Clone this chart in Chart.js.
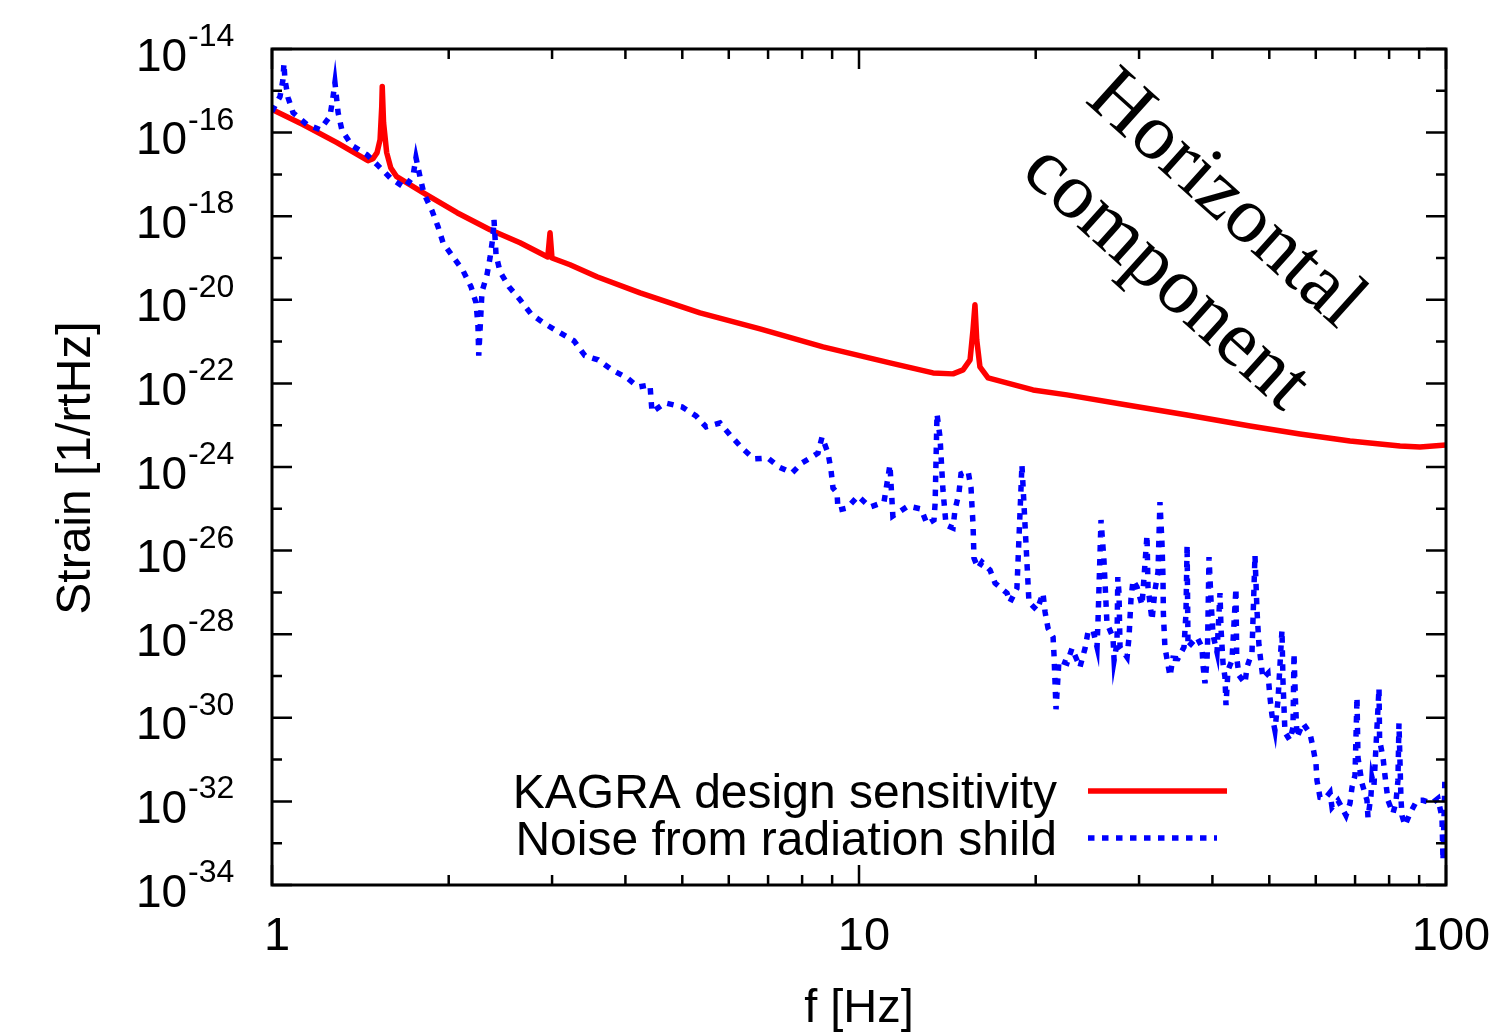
<!DOCTYPE html>
<html>
<head>
<meta charset="utf-8">
<title>KAGRA - horizontal component</title>
<script src="https://cdn.jsdelivr.net/npm/chart.js@4.4.1/dist/chart.umd.min.js"></script>
<style>
  html, body { margin: 0; padding: 0; background: #fff; }
  #wrap { width: 1494px; height: 1034px; }
</style>
</head>
<body>
<div id="wrap"><canvas id="chart" width="1494" height="1034"></canvas></div>
<script>
// KAGRA design sensitivity (f in Hz, strain in 1/rtHz)
const kagraFreq = [1.0, 1.129, 1.29, 1.457, 1.486, 1.51, 1.528, 1.538, 1.541, 1.549, 1.568, 1.593, 1.631,
    1.808, 2.067, 2.352, 2.646, 2.95, 2.976, 2.999, 3.219, 3.578, 4.237, 5.359, 6.782, 8.683,
    11.29, 13.37, 14.46, 15.04, 15.46, 15.64, 15.76, 15.87, 16.07, 16.59, 19.79, 22.61, 28.62,
    36.22, 46.36, 56.39, 68.62, 83.5, 90.3, 100];
const kagraStrain = [3.56e-16, 1.56e-16, 5.75e-17, 2.13e-17, 2.38e-17, 3.32e-17, 6.8e-17, 4.2e-16, 1.26e-15, 1.74e-16, 3.32e-17, 1.45e-17, 8.8e-18,
    3.66e-18, 1.21e-18, 4.75e-19, 2.32e-19, 1.06e-19, 4.0e-19, 1.0e-19, 6.89e-20, 3.56e-20, 1.47e-20, 4.89e-21, 2.02e-21, 7.48e-22,
    3.1e-22, 1.78e-22, 1.69e-22, 2.1e-22, 3.66e-22, 1.91e-21, 7.59e-21, 1.1e-21, 2.48e-22, 1.36e-22, 6.98e-23, 5.31e-23, 3.05e-23,
    1.76e-23, 9.6e-24, 6.17e-24, 4.2e-24, 3.18e-24, 3.01e-24, 3.37e-24];

// noise from the radiation shield
const noiseFreq = [1.0, 1.032, 1.044, 1.048, 1.052, 1.065, 1.086, 1.147, 1.207, 1.255, 1.27, 1.28, 1.296, 1.316, 1.369, 1.451,
    1.516, 1.595, 1.685, 1.739, 1.759, 1.787, 1.815, 1.873, 1.918, 1.956, 2.034, 2.116, 2.183, 2.226, 2.243, 2.25,
    2.279, 2.324, 2.352, 2.379, 2.389, 2.408, 2.446, 2.533, 2.646, 2.762, 2.918, 3.095, 3.27, 3.413, 3.593, 3.795,
    4.025, 4.203, 4.405, 4.44, 4.673, 4.994, 5.277, 5.488, 5.798, 6.053, 6.319, 6.624, 6.998, 7.306, 7.689, 7.996,
    8.316, 8.515, 8.65, 8.855, 8.96, 9.03, 9.175, 9.21, 9.54, 9.96, 10.44, 11.03, 11.29, 11.38, 11.42, 12.12,
    12.76, 13.06, 13.42, 13.48, 13.58, 13.74, 13.9, 14.07, 14.46, 14.57, 14.8, 14.92, 15.34, 15.52, 15.58, 15.64,
    15.7, 15.95, 16.2, 16.72, 17.05, 17.87, 18.08, 18.58, 18.95, 19.48, 20.1, 20.58, 20.75, 20.99, 21.41, 21.49,
    21.66, 21.91, 22.61, 23.06, 23.52, 23.79, 24.27, 24.55, 25.04, 25.44, 25.54, 25.84, 26.14, 26.45, 27.08, 27.2,
    27.51, 27.6, 27.73, 27.84, 28.62, 28.84, 29.07, 29.3, 29.76, 30.35, 30.95, 31.07, 31.56, 31.93, 32.31, 32.56,
    32.82, 32.95, 33.0, 33.2, 33.87, 34.26, 34.94, 35.78, 36.06, 36.22, 36.35, 37.65, 38.4, 38.55, 38.85, 39.16,
    39.25, 39.47, 39.78, 40.1, 40.73, 41.21, 41.37, 41.7, 42.02, 42.19, 42.52, 43.19, 43.87, 44.0, 44.39, 45.45,
    45.81, 46.72, 47.27, 47.64, 48.01, 48.39, 48.77, 49.74, 50.13, 50.53, 51.12, 51.73, 52.55, 52.75, 53.17, 54.22,
    54.87, 55.09, 55.4, 55.74, 57.06, 58.65, 59.34, 60.05, 60.28, 61.0, 62.22, 63.45, 63.95, 65.46, 67.55, 68.62,
    69.16, 69.98, 70.53, 70.8, 71.93, 73.35, 73.64, 74.51, 74.8, 75.39, 76.89, 77.07, 78.1, 78.71, 79.64, 81.22,
    82.17, 82.82, 83.15, 83.5, 83.8, 84.14, 85.14, 86.83, 89.24, 91.36, 94.64, 96.91, 98.44, 98.83, 99.6];
const noiseStrain = [3.2e-16, 7.3e-16, 1.86e-15, 4.5e-15, 1.86e-15, 6.9e-16, 3.0e-16, 1.56e-16, 1.18e-16, 2.42e-16, 6.9e-16, 1.58e-15, 3.0e-16, 1.12e-16, 4.9e-17, 2.97e-17,
    1.62e-17, 7.9e-18, 4.8e-18, 9.3e-18, 2.52e-17, 8.8e-18, 3.46e-18, 1.36e-18, 5.6e-19, 2.32e-19, 1.07e-19, 4.95e-20, 2.05e-20, 8.5e-21, 2.52e-21, 4.6e-22,
    1.56e-20, 3.97e-20, 1.01e-19, 3.23e-19, 8.2e-19, 1.2e-19, 4.7e-20, 2.05e-20, 1.0e-20, 4.6e-21, 2.66e-21, 1.62e-21, 1.04e-21, 4.6e-22, 3.66e-22, 2.1e-22,
    1.36e-22, 8.2e-23, 9.2e-23, 2.07e-23, 3.41e-23, 2.74e-23, 1.67e-23, 9.1e-24, 1.13e-23, 5.5e-24, 2.85e-24, 1.56e-24, 1.64e-24, 1.0e-24, 7.2e-25, 1.25e-24,
    1.74e-24, 2.16e-24, 5.2e-24, 2.16e-24, 8.5e-25, 3.14e-25, 2.38e-25, 9.3e-26, 1.04e-25, 2.02e-25, 1.1e-25, 1.45e-25, 1.12e-24, 1.62e-25, 6.7e-26, 1.16e-25,
    9.9e-26, 4.3e-26, 5.4e-26, 1.37e-25, 1.86e-23, 5.2e-24, 2.81e-25, 4.1e-26, 3.46e-26, 9.3e-26, 2.38e-25, 6.8e-25, 8.0e-25, 3.14e-25, 1.1e-25, 4.3e-26,
    6.6e-27, 3.8e-27, 5.3e-27, 3.41e-27, 1.67e-27, 9.6e-28, 5.8e-28, 1.26e-27, 1.12e-24, 5.8e-28, 3.76e-28, 9.6e-28, 3.37e-28, 1.39e-28, 8.5e-29, 3.14e-29,
    1.6e-30, 2.38e-29, 2.02e-29, 4.6e-29, 2.38e-29, 1.62e-29, 4.6e-29, 1.12e-28, 1.25e-28, 4.9e-29, 2.16e-28, 5.4e-26, 5.9e-27, 1.83e-28, 8.5e-29, 2.38e-29,
    6.1e-29, 2.32e-27, 9.6e-28, 4.9e-29, 2.81e-29, 8.5e-29, 7.3e-28, 1.96e-27, 1.34e-27, 4.95e-28, 2.35e-26, 1.34e-27, 2.16e-28, 1.13e-27, 3.05e-27, 1.45e-25,
    1.51e-26, 2.32e-27, 3.18e-28, 4.9e-29, 9.9e-30, 2.66e-29, 2.6e-29, 4.9e-29, 3.18e-28, 1.36e-26, 4.9e-29, 8.5e-29, 4.9e-29, 1.81e-29, 6.7e-30, 2.38e-29,
    6.1e-29, 7.0e-27, 6.5e-28, 9.5e-29, 3.71e-29, 9.6e-28, 1.39e-28, 2.02e-29, 9.3e-30, 2.0e-30, 1.37e-29, 2.38e-29, 1.26e-27, 2.81e-29, 1.04e-29, 6.7e-30,
    1.62e-29, 3.71e-29, 7.8e-27, 3.76e-28, 5.5e-29, 2.13e-29, 8.8e-30, 1.16e-29, 3.1e-30, 1.15e-30, 5.0e-31, 2.62e-30, 1.25e-28, 7.9e-30, 4.5e-31, 2.89e-31,
    5.9e-31, 3.51e-29, 2.62e-30, 3.41e-31, 7.4e-31, 4.26e-31, 1.96e-31, 8.1e-32, 3.18e-32, 1.25e-32, 1.18e-32, 1.64e-32, 7.2e-33, 1.06e-32, 4.6e-33, 9.0e-33,
    2.16e-32, 4.2e-32, 3.1e-30, 1.13e-31, 2.7e-32, 1.06e-32, 4.1e-33, 1.39e-32, 3.76e-32, 2.42e-32, 5.1e-30, 2.89e-31, 1.13e-31, 4.2e-32, 1.06e-32, 5.2e-33,
    9.5e-33, 3.18e-32, 7.4e-31, 8.1e-32, 1.18e-32, 4.6e-33, 2.66e-33, 5.2e-33, 1.06e-32, 1.06e-32, 9.0e-33, 1.18e-32, 4.1e-33, 3.9e-34, 4.2e-32];

// axis ticks
const xMajorTicks = [1, 10, 100];
const xMinorTicks = [2, 3, 4, 5, 6, 7, 8, 9, 20, 30, 40, 50, 60, 70, 80, 90];
const xTickLabels = ['1', '10', '100'];
const yTickExponents = [-14, -16, -18, -20, -22, -24, -26, -28, -30, -32, -34];
const yMinorExponents = [-15, -17, -19, -21, -23, -25, -27, -29, -31, -33];

const seriesLabels = ['KAGRA design sensitivity', 'Noise from radiation shild'];
const annotationLines = ['Horizontal', 'component'];

const SANS = '"Liberation Sans", Arial, Helvetica, sans-serif';
const SERIF = '"Liberation Serif", "Times New Roman", serif';

const toPoints = (xs, ys) => xs.map((f, i) => ({ x: f, y: ys[i] }));

// gnuplot-like frame, inward ticks, labels, key and annotation
const gnuplotDecor = {
    id: 'gnuplotDecor',
    afterDraw(chart) {
        const ctx = chart.ctx;
        const xs = chart.scales.x;
        const ys = chart.scales.y;
        const { left, right, top, bottom } = chart.chartArea;

        ctx.save();
        ctx.strokeStyle = '#000';
        ctx.fillStyle = '#000';

        // ticks
        ctx.lineWidth = 2.5;
        ctx.beginPath();
        const xTick = (v, len) => {
            const px = xs.getPixelForValue(v);
            ctx.moveTo(px, bottom); ctx.lineTo(px, bottom - len);
            ctx.moveTo(px, top); ctx.lineTo(px, top + len);
        };
        const yTick = (e, len) => {
            const py = ys.getPixelForValue(Math.pow(10, e));
            ctx.moveTo(left, py); ctx.lineTo(left + len, py);
            ctx.moveTo(right, py); ctx.lineTo(right - len, py);
        };
        xMajorTicks.forEach(v => xTick(v, 20));
        xMinorTicks.forEach(v => xTick(v, 10));
        yTickExponents.forEach(e => yTick(e, 20));
        yMinorExponents.forEach(e => yTick(e, 10));
        ctx.stroke();

        // frame
        ctx.lineWidth = 3;
        ctx.strokeRect(left, top, right - left, bottom - top);

        // y tick labels: 10 with superscript exponent
        ctx.textAlign = 'left';
        ctx.textBaseline = 'alphabetic';
        yTickExponents.forEach(e => {
            const py = ys.getPixelForValue(Math.pow(10, e));
            ctx.font = '46px ' + SANS;
            ctx.fillText('10', 136, py + 21.5);
            ctx.font = '32px ' + SANS;
            ctx.fillText('-' + Math.abs(e), 188, py - 3);
        });

        // x tick labels
        ctx.font = '47px ' + SANS;
        ctx.textAlign = 'center';
        xMajorTicks.forEach((v, i) => {
            ctx.fillText(xTickLabels[i], xs.getPixelForValue(v) + 5, 950);
        });

        // axis titles
        ctx.fillText('f [Hz]', (left + right) / 2, 1022);
        ctx.save();
        ctx.font = '48px ' + SANS;
        ctx.translate(90, 468);
        ctx.rotate(-Math.PI / 2);
        ctx.fillText('Strain [1/rtHz]', 0, 0);
        ctx.restore();

        // key
        const keyRows = [808, 855];
        ctx.font = '48px ' + SANS;
        ctx.textAlign = 'right';
        chart.data.datasets.slice().sort((a, b) => a.keyRow - b.keyRow).forEach((ds, i) => {
            const base = keyRows[i];
            ctx.fillStyle = '#000';
            ctx.fillText(ds.label, 1057, base);
            const ly = base - 17;
            ctx.save();
            ctx.strokeStyle = ds.borderColor;
            ctx.lineWidth = ds.borderWidth;
            ctx.setLineDash(ds.borderDash || []);
            ctx.beginPath();
            ctx.moveTo(1088, ly);
            ctx.lineTo(ds.borderDash ? 1217 : 1227, ly);
            ctx.stroke();
            ctx.restore();
        });

        // rotated annotation
        ctx.save();
        ctx.fillStyle = '#000';
        ctx.font = '80px ' + SERIF;
        ctx.textAlign = 'center';
        ctx.textBaseline = 'middle';
        ctx.translate(1225, 200);
        ctx.rotate(42 * Math.PI / 180);
        ctx.fillText(annotationLines[0], 0, 0);
        ctx.fillText(annotationLines[1], 8, 98);
        ctx.restore();

        ctx.restore();
    }
};

new Chart(document.getElementById('chart').getContext('2d'), {
    type: 'line',
    data: {
        datasets: [
            {
                label: seriesLabels[1],
                keyRow: 1,
                data: toPoints(noiseFreq, noiseStrain),
                borderColor: '#0000ff',
                borderWidth: 5.5,
                borderDash: [6.5, 7.5],
                borderCapStyle: 'butt',
                pointRadius: 0,
                tension: 0,
                fill: false,
                order: 0
            },
            {
                label: seriesLabels[0],
                keyRow: 0,
                data: toPoints(kagraFreq, kagraStrain),
                borderColor: '#ff0000',
                borderWidth: 5.5,
                borderJoinStyle: 'round',
                pointRadius: 0,
                tension: 0,
                fill: false,
                order: 1
            }
        ]
    },
    options: {
        responsive: false,
        animation: false,
        layout: { padding: { left: 272, top: 49, right: 48, bottom: 149 } },
        scales: {
            x: { type: 'logarithmic', min: 1, max: 100, display: false },
            y: { type: 'logarithmic', min: 1e-34, max: 1e-14, display: false }
        },
        plugins: {
            legend: { display: false },
            tooltip: { enabled: false }
        }
    },
    plugins: [gnuplotDecor]
});
</script>
</body>
</html>
